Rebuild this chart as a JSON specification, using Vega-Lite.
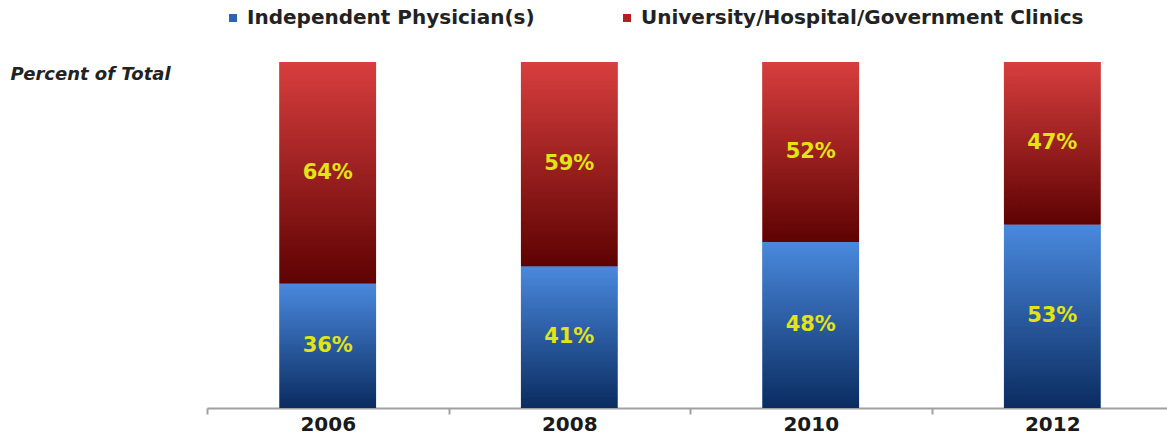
{
  "$schema": "https://vega.github.io/schema/vega-lite/v6.json",
  "autosize": {"type": "none"},
  "padding": {"left": 207, "top": 62, "right": 0, "bottom": 28},
  "width": 960,
  "height": 346,
  "background": "white",
  "config": {"view": {"stroke": null}, "font": "DejaVu Sans"},
  "data": {
    "values": [
      {"year": "2006", "series": "Independent Physician(s)", "value": 0.36},
      {"year": "2006", "series": "University/Hospital/Government Clinics", "value": 0.64},
      {"year": "2008", "series": "Independent Physician(s)", "value": 0.41},
      {"year": "2008", "series": "University/Hospital/Government Clinics", "value": 0.59},
      {"year": "2010", "series": "Independent Physician(s)", "value": 0.48},
      {"year": "2010", "series": "University/Hospital/Government Clinics", "value": 0.52},
      {"year": "2012", "series": "Independent Physician(s)", "value": 0.53},
      {"year": "2012", "series": "University/Hospital/Government Clinics", "value": 0.47}
    ]
  },
  "encoding": {
    "x": {
      "field": "year",
      "type": "ordinal",
      "scale": {"range": [0, 966], "paddingInner": 0, "paddingOuter": 0},
      "axis": {
        "title": null,
        "labelAngle": 0,
        "labelFont": "DejaVu Sans",
        "labelFontWeight": "bold",
        "labelFontSize": 20,
        "labelColor": "#1a1a1a",
        "labelPadding": 0,
        "labelBaseline": "top",
        "tickBand": "extent",
        "tickSize": 6,
        "tickColor": "#a0a0a0",
        "tickWidth": 2,
        "domainColor": "#a0a0a0",
        "domainWidth": 2
      }
    },
    "order": {"field": "series", "sort": "ascending"}
  },
  "layer": [
    {
      "mark": {"type": "bar", "width": {"band": 0.4}},
      "encoding": {
        "y": {
          "field": "value",
          "type": "quantitative",
          "stack": "zero",
          "scale": {"domain": [0, 1], "nice": false},
          "axis": {
            "title": "Percent of Total",
            "titleAngle": 0,
            "titleX": -197,
            "titleY": 12,
            "titleAlign": "left",
            "titleBaseline": "middle",
            "titleFont": "DejaVu Sans",
            "titleFontStyle": "italic",
            "titleFontWeight": "bold",
            "titleFontSize": 18,
            "titleColor": "#222222",
            "labels": false,
            "ticks": false,
            "domain": false,
            "grid": false
          }
        },
        "color": {
          "field": "series",
          "type": "nominal",
          "scale": {"range": ["#2d62b4", "#b51f1f"]},
          "legend": {
            "orient": "none",
            "legendX": 16,
            "legendY": -54,
            "direction": "horizontal",
            "title": null,
            "symbolType": "square",
            "symbolSize": 64,
            "symbolOpacity": 1,
            "symbolStrokeWidth": 0,
            "labelFont": "DejaVu Sans",
            "labelFontWeight": "bold",
            "labelFontSize": 20,
            "labelColor": "#222222",
            "labelOffset": 4,
            "labelLimit": 0,
            "columnPadding": 82
          }
        }
      }
    },
    {
      "mark": {"type": "bar", "width": {"band": 0.4}},
      "encoding": {
        "y": {
          "field": "value",
          "type": "quantitative",
          "stack": "zero",
          "axis": {
            "title": "Percent of Total",
            "titleAngle": 0,
            "titleX": -197,
            "titleY": 12,
            "titleAlign": "left",
            "titleBaseline": "middle",
            "titleFont": "DejaVu Sans",
            "titleFontStyle": "italic",
            "titleFontWeight": "bold",
            "titleFontSize": 18,
            "titleColor": "#222222",
            "labels": false,
            "ticks": false,
            "domain": false,
            "grid": false
          }
        },
        "detail": {"field": "series"},
        "color": {
          "condition": {
            "test": "datum.series === 'Independent Physician(s)'",
            "value": {
              "gradient": "linear", "x1": 0, "y1": 0, "x2": 0, "y2": 1,
              "stops": [{"offset": 0, "color": "#4a89de"}, {"offset": 1, "color": "#0a2c60"}]
            }
          },
          "value": {
            "gradient": "linear", "x1": 0, "y1": 0, "x2": 0, "y2": 1,
            "stops": [{"offset": 0, "color": "#d83e3e"}, {"offset": 1, "color": "#5e0202"}]
          }
        }
      }
    },
    {
      "mark": {"type": "text", "font": "DejaVu Sans", "fontWeight": "bold", "fontSize": 21, "color": "#e2e414", "baseline": "middle", "align": "center"},
      "encoding": {
        "y": {
          "field": "value",
          "type": "quantitative",
          "stack": "zero",
          "bandPosition": 0.5,
          "axis": {
            "title": "Percent of Total",
            "titleAngle": 0,
            "titleX": -197,
            "titleY": 12,
            "titleAlign": "left",
            "titleBaseline": "middle",
            "titleFont": "DejaVu Sans",
            "titleFontStyle": "italic",
            "titleFontWeight": "bold",
            "titleFontSize": 18,
            "titleColor": "#222222",
            "labels": false,
            "ticks": false,
            "domain": false,
            "grid": false
          }
        },
        "detail": {"field": "series"},
        "text": {"field": "value", "type": "quantitative", "format": ".0%"}
      }
    }
  ]
}
